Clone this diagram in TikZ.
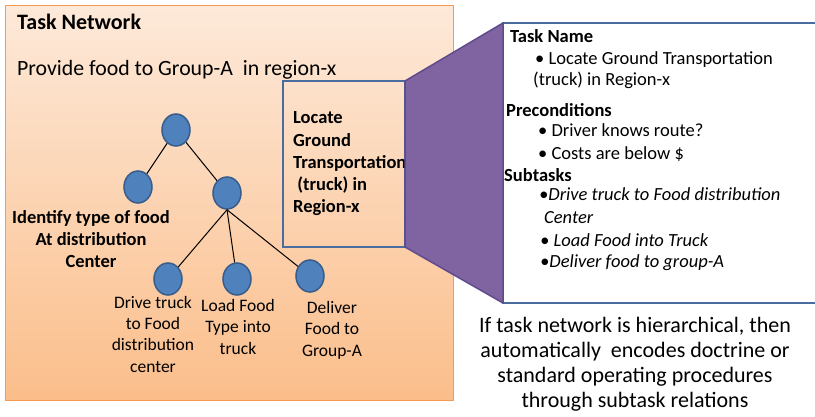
\documentclass[tikz,border=0pt]{standalone}
\usepackage{fontspec}
\setmainfont{Carlito}
\usetikzlibrary{shapes.geometric}
\definecolor{netTop}{HTML}{FDE9D9}
\definecolor{netBot}{HTML}{FBBE8B}
\definecolor{netEdge}{HTML}{F79A50}
\definecolor{taskFill}{HTML}{4F81BD}
\definecolor{taskEdge}{HTML}{385D8A}
\definecolor{boxEdge}{HTML}{4A6C9F}
\definecolor{zoomFill}{HTML}{8064A2}
\definecolor{zoomEdge}{HTML}{5F4B8B}
\begin{document}
\begin{tikzpicture}[x=1pt,y=-1pt,
  task/.style={ellipse, draw=taskEdge, fill=taskFill, line width=1.5pt,
    minimum width=28pt, minimum height=32pt, inner sep=0pt},
  link/.style={line width=1pt, black},
  big/.style={font=\fontsize{22}{25}\selectfont, inner sep=0pt},
  bigb/.style={font=\bfseries\fontsize{22}{26}\selectfont, inner sep=0pt},
  leaf/.style={font=\fontsize{17.5}{21.3}\selectfont, inner sep=0pt, align=center, anchor=base},
  tag/.style={font=\bfseries\fontsize{18.5}{22.3}\selectfont, inner sep=0pt},
  body/.style={font=\fontsize{18.5}{22}\selectfont, inner sep=0pt, anchor=base west},
  bodyb/.style={font=\bfseries\fontsize{18.5}{22}\selectfont, inner sep=0pt, anchor=base west},
  bodyi/.style={font=\itshape\fontsize{18.5}{22}\selectfont, inner sep=0pt, anchor=base west},
]
\useasboundingbox (0,0) rectangle (815,417);

% task network panel
\draw[netEdge, line width=1pt, top color=netTop, bottom color=netBot]
  (5,6) rectangle (453,400);
\node[bigb, anchor=base west] (title) at (17,30) {Task Network};
\node[font=\fontsize{21.8}{25}\selectfont, inner sep=0pt, anchor=base west] (goal) at (17,76)
  {Provide food to Group-A\ \ in region-x};

% task tree
\node[task] (root) at (176,130) {};
\node[task] (c1) at (138,187) {};
\node[task] (c2) at (227,193) {};
\node[task] (g1) at (168,279) {};
\node[task] (g2) at (237,279) {};
\node[task] (g3) at (310,276) {};
\draw[link] (root) -- (c1);
\draw[link] (root) -- (c2);
\draw[link] (c2.south) -- (g1);
\draw[link] (c2.south) -- (g2);
\draw[link] (c2.south) -- (g3);

% labels (anchored on the baseline of their last line)
\node[tag, align=center, anchor=base] (c1t) at (91,268)
  {Identify type of food\\At distribution\\Center};
\node[leaf] (g1t) at (153,372) {Drive truck\\to Food\\distribution\\center};
\node[leaf] (g2t) at (238,354) {Load Food\\Type into\\truck};
\node[leaf] (g3t) at (332,356) {Deliver\\Food to\\Group-A};

% selected task
\draw[boxEdge, line width=1.5pt] (283,81) rectangle (405,247);
\node[tag, align=left, anchor=base west] (sel) at (293,213)
  {Locate\\Ground\\Transportation\\\ (truck) in\\Region-x};

% task detail card
\fill[white] (503,23) rectangle (815,303);
\draw[boxEdge, line width=2pt] (815,23) -- (503,23) -- (503,303) -- (815,303);
\node[bodyb] (d1) at (510,43) {Task Name};
\node[body] (d2) at (535,65) {• Locate Ground Transportation};
\node[body] (d3) at (533,86) {(truck) in Region-x};
\node[bodyb] (d4) at (506,117) {Preconditions};
\node[body] (d5) at (538,137) {• Driver knows route?};
\node[body] (d6) at (538,160) {• Costs are below \$};
\node[bodyb] (d7) at (504,182) {Subtasks};
\node[bodyi] (d8) at (539,201) {•Drive truck to Food distribution};
\node[bodyi] (d9) at (544,224) {Center};
\node[bodyi] (d10) at (540,247) {• Load Food into Truck};
\node[bodyi] (d11) at (540,268) {•Deliver food to group-A};

% zoom connector
\draw[zoomEdge, line width=1.5pt, fill=zoomFill, line join=round]
  (405,81) -- (503,23) -- (503,303) -- (405,247) -- cycle;

% note
\node[big, align=center, anchor=base] (note) at (635,407)
  {If task network is hierarchical, then\\automatically\ \ encodes doctrine or\\standard operating procedures\\through subtask relations};
\end{tikzpicture}
\end{document}
